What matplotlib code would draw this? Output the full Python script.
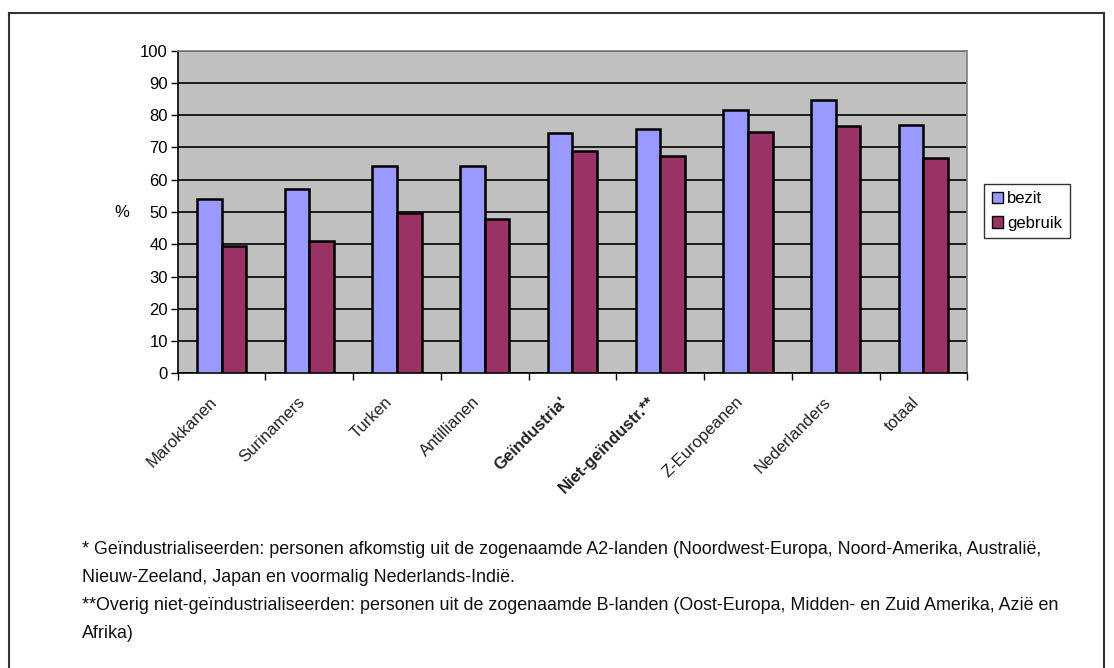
import matplotlib
matplotlib.use("Agg")
import matplotlib.pyplot as plt
import numpy as np
from matplotlib.patches import Patch
from matplotlib.lines import Line2D

plt.rcParams['font.family'] = ['Liberation Sans', 'DejaVu Sans']

categories = ["Marokkanen", "Surinamers", "Turken", "Antillianen", "Geïndustria'",
              "Niet-geïndustr.**", "Z-Europeanen", "Nederlanders", "totaal"]
bezit = [54, 57, 64.2, 64.2, 74.4, 75.6, 81.6, 84.6, 76.9]
gebruik = [39.6, 41, 49.7, 47.7, 68.9, 67.3, 74.9, 76.6, 66.8]
yticks = list(range(0, 101, 10))

footnotes = [
    "* Geïndustrialiseerden: personen afkomstig uit de zogenaamde A2-landen (Noordwest-Europa, Noord-Amerika, Australië,",
    "Nieuw-Zeeland, Japan en voormalig Nederlands-Indië.",
    "**Overig niet-geïndustrialiseerden: personen uit de zogenaamde B-landen (Oost-Europa, Midden- en Zuid Amerika, Azië en",
    "Afrika)",
]

W, H = 1114, 668
fig = plt.figure(figsize=(W / 100, H / 100), dpi=100)
fig.patch.set_facecolor("white")

# outer frame
frame = dict(color="#333333", lw=1.5, transform=fig.transFigure)
fig.add_artist(Line2D([9 / W, 9 / W], [0, 1 - 13 / H], **frame))
fig.add_artist(Line2D([9 / W, 1104 / W], [1 - 13 / H, 1 - 13 / H], **frame))
fig.add_artist(Line2D([1104 / W, 1104 / W], [0, 1 - 13 / H], **frame))

x0, x1, ytop, ybot = 177.7, 967.3, 50.7, 373.3
ax = fig.add_axes([x0 / W, 1 - ybot / H, (x1 - x0) / W, (ybot - ytop) / H])
ax.set_facecolor("#C0C0C0")

x = np.arange(len(categories))
bw = 0.28
ax.bar(x - bw / 2, bezit, bw, color="#9999FF", edgecolor="black", lw=1.8, zorder=3, label="bezit")
ax.bar(x + bw / 2, gebruik, bw, color="#993366", edgecolor="black", lw=1.8, zorder=3, label="gebruik")

ax.set_xlim(-0.5, len(categories) - 0.5)
ax.set_ylim(0, 100)
ax.set_yticks(yticks)
ax.yaxis.grid(True, color="black", lw=1.2, zorder=1)
ax.set_axisbelow(True)
ax.tick_params(axis="y", labelsize=12, length=5, width=1, direction="out", pad=2, colors="black")
ax.set_xticks(np.arange(len(categories) + 1) - 0.5, minor=False)
ax.set_xticklabels([])
ax.tick_params(axis="x", length=5, width=1, direction="out")
for i, c in enumerate(categories):
    bold = c.startswith("Ge") or c.startswith("Niet")
    ax.text(i - 0.14, -6.5, c, rotation=45, ha="right", va="top", rotation_mode="anchor",
            fontsize=12, fontweight="bold" if bold else "normal", color="#222222")

for s in ["top", "right"]:
    ax.spines[s].set_color("#808080")
    ax.spines[s].set_linewidth(1.2)
ax.spines["left"].set_color("black")
ax.spines["bottom"].set_color("black")
ax.spines["left"].set_linewidth(1.2)
ax.spines["bottom"].set_linewidth(1.2)

fig.text(122 / W, 1 - 213 / H, "%", fontsize=12, ha="center", va="center")

handles = [Patch(facecolor="#9999FF", edgecolor="black", lw=1),
           Patch(facecolor="#993366", edgecolor="black", lw=1)]
leg = fig.legend(handles, ["bezit", "gebruik"], loc="upper left",
                 bbox_to_anchor=(984 / W, 1 - 184 / H), frameon=True, fancybox=False,
                 fontsize=12, handlelength=0.7, handleheight=0.7, handletextpad=0.25,
                 borderpad=0.45, labelspacing=0.55, borderaxespad=0)
leg.get_frame().set_edgecolor("black")
leg.get_frame().set_linewidth(1)

ys = [550, 578, 606, 633]
for t, yy in zip(footnotes, ys):
    fig.text(82 / W, 1 - yy / H, t, fontsize=12.9, ha="left", va="center", color="#111111")

fig.savefig("out.png", dpi=100, facecolor="white")
